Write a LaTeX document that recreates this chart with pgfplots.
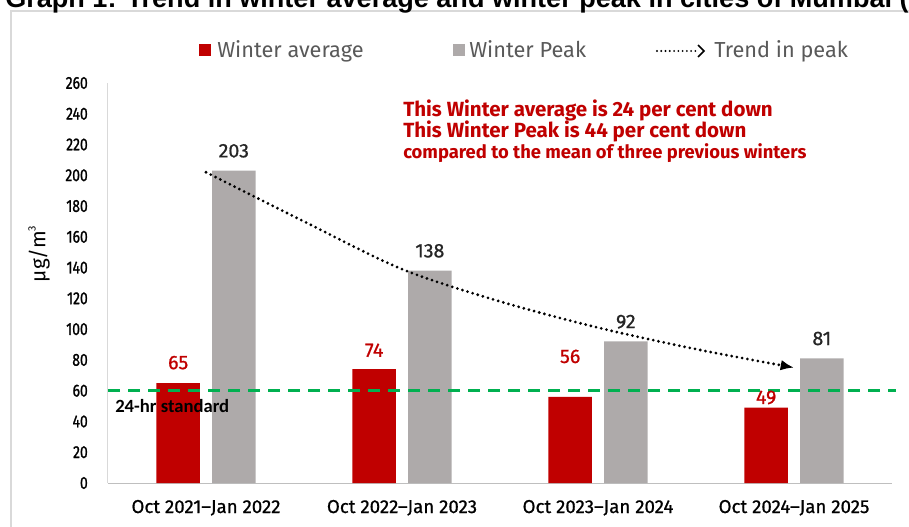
\documentclass[border=0pt]{standalone}
\usepackage{fontspec}
\usepackage{pgfplots}
\pgfplotsset{compat=1.18}
\usetikzlibrary{arrows.meta}
\setmainfont{Fira Sans}
\newfontfamily\din{Fira Sans}
\newfontfamily\dinm{Fira Sans}[FakeBold=0.8]
\newfontfamily\dinc{Fira Sans}[FakeStretch=0.8,FakeBold=1.2]
\newfontfamily\calib{Carlito}
\newfontfamily\arial{Liberation Sans}

\definecolor{cred}{HTML}{C00000}
\definecolor{cgray}{HTML}{AEAAAA}
\definecolor{cgreen}{HTML}{00B050}
\definecolor{ctext}{HTML}{595959}
\definecolor{cval}{HTML}{262626}
\definecolor{frame}{HTML}{D9D9D9}

\begin{document}
\begin{tikzpicture}[x=0.75pt,y=0.75pt]
\begin{axis}[
    scale only axis,
    width=588pt, height=300pt,
    xmin=-0.5, xmax=3.5,
    ymin=0, ymax=260,
    axis x line*=bottom, axis y line*=left,
    axis line style={-},
    x axis line style={draw=black!25, line width=0.75pt},
    y axis line style={draw=frame, line width=0.75pt},
    xtick={0,1,2,3},
    xticklabels={Oct 2021–Jan 2022, Oct 2022–Jan 2023, Oct 2023–Jan 2024, Oct 2024–Jan 2025},
    ytick={0,20,...,260},
    major tick length=0pt,
    /pgf/number format/assume math mode=true,
    yticklabel style={font=\dinc\fontsize{13}{15}\selectfont, anchor=east, inner sep=0pt, xshift=-15pt},
    xticklabel style={font=\dinm\fontsize{14}{16}\selectfont, anchor=base, inner sep=0pt, yshift=-22.5pt},
    clip=false,
]
\coordinate (O) at (rel axis cs:0,0);
% winter average
\addplot[ybar, bar width=0.222, fill=cred, draw=none]
  coordinates {(-0.142,65) (0.858,74) (1.858,56) (2.858,49)};
% winter peak
\addplot[ybar, bar width=0.222, fill=cgray, draw=none,
  nodes near coords,
  nodes near coords style={font=\dinm\fontsize{14.7}{16}\selectfont, text=cval, anchor=base, inner sep=0pt, yshift=10pt}]
  coordinates {(0.142,203) (1.142,138) (2.142,92) (3.142,81)};
% 24-hr standard
\addplot[cgreen, line width=2.25pt, dash pattern=on 9pt off 6pt]
  coordinates {(-0.5,60) (3.52,60)};
% trend in peak
\addplot[smooth, line width=2.3pt, line cap=round, dash pattern=on 0pt off 4pt,
  -{Latex[length=10pt,width=8pt]}]
  coordinates {(0,202) (0.5,170) (1,139) (1.5,118) (2,101) (2.5,87) (3,75)};
% labels of the red bars (placed by hand in the original)
\node[font=\dinm\fontsize{14.7}{16}\selectfont, text=cred, anchor=base, inner sep=0pt] at (axis cs:-0.142,74) {65};
\node[font=\dinm\fontsize{14.7}{16}\selectfont, text=cred, anchor=base, inner sep=0pt] at (axis cs:0.858,82) {74};
\node[font=\dinm\fontsize{14.7}{16}\selectfont, text=cred, anchor=base, inner sep=0pt] at (axis cs:1.858,78) {56};
\node[font=\dinm\fontsize{14.7}{16}\selectfont, text=cred, anchor=base, inner sep=0pt] at (axis cs:2.858,51.4) {49};
\end{axis}

% everything else in picture pixels, origin at the picture's lower left corner
\begin{scope}[shift={(O)}, shift={(-108,-43)}]
\useasboundingbox (0,0) rectangle (909,526);
% outer frame and the title, cut off at the top
\draw[line width=1.5pt, frame] (11,-5) -- (11,515) -- (915,515);
\node[anchor=base west, inner sep=0, font=\arial\bfseries\fontsize{20.3}{23}\selectfont]
  at (5,518) {Graph 1: Trend in winter average and winter peak in cities of Mumbai (µg/m³)};

% y label
\node[rotate=90, font=\din\fontsize{15.5}{18}\selectfont] at (39,272) {µg/m\raisebox{0.9ex}{\fontsize{8}{9}\selectfont 3}};

% standard label
\node[anchor=base west, inner sep=0, font=\calib\bfseries\fontsize{14}{16}\selectfont] at (115,114) {24-hr standard};

% legend
\fill[cred] (199,470) rectangle (211,482);
\node[anchor=base west, inner sep=0, text=ctext, font=\din\fontsize{16.3}{18}\selectfont] at (217,469) {Winter average};
\fill[cgray] (453,470) rectangle (465,482);
\node[anchor=base west, inner sep=0, text=ctext, font=\din\fontsize{16.3}{18}\selectfont] at (469,469) {Winter Peak};
\draw[line width=1.6pt, line cap=round, dash pattern=on 0pt off 3.2pt] (657,475) -- (697,475);
\draw[line width=1.3pt, -] (698,481) -- (704,475) -- (698,469);
\node[anchor=base west, inner sep=0, text=ctext, font=\din\fontsize{16.3}{18}\selectfont] at (714,469) {Trend in peak};

% note
\node[anchor=base west, inner sep=0, text=cred, font=\din\bfseries\fontsize{15.4}{18}\selectfont] at (403,410) {This Winter average is 24 per cent down};
\node[anchor=base west, inner sep=0, text=cred, font=\din\bfseries\fontsize{15.4}{18}\selectfont] at (403,389) {This Winter Peak is 44 per cent down};
\node[anchor=base west, inner sep=0, text=cred, font=\din\bfseries\fontsize{13.8}{16}\selectfont] at (403,368) {compared to the mean of three previous winters};
\end{scope}
\end{tikzpicture}
\end{document}
